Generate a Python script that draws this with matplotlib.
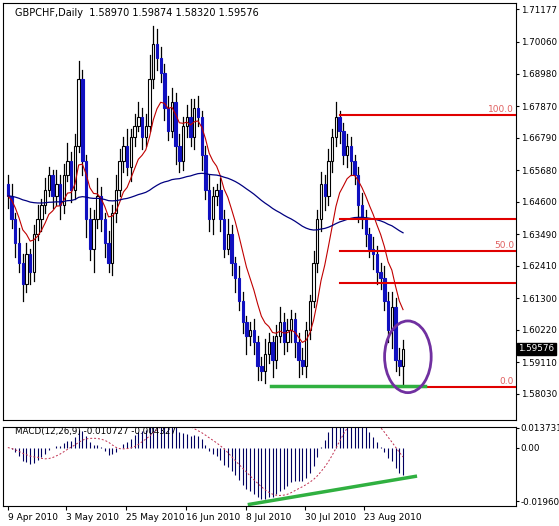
import numpy as np
import pandas as pd
import matplotlib
matplotlib.use("Agg")
import matplotlib.pyplot as plt
from matplotlib.patches import Rectangle, Ellipse

closes = [1.648,1.640,1.632,1.625,1.618,1.628,1.622,1.635,1.640,1.645,1.650,1.655,1.648,1.652,1.645,
          1.655,1.660,1.650,1.665,1.688,1.660,1.640,1.630,1.640,1.648,
          1.640,1.632,1.625,1.642,1.650,1.660,1.665,1.658,1.668,1.672,
          1.675,1.668,1.672,1.688,1.700,1.695,1.690,1.678,1.670,1.680,
          1.665,1.660,1.672,1.675,1.668,1.678,1.675,1.662,1.650,1.640,
          1.648,1.650,1.640,1.630,1.635,1.625,1.620,1.612,1.605,1.600,
          1.602,1.598,1.590,1.588,1.594,1.598,1.592,1.600,1.605,1.598,
          1.602,1.606,1.598,1.592,1.590,1.602,1.612,1.625,1.640,1.652,
          1.648,1.660,1.668,1.675,1.670,1.662,1.665,1.660,1.655,1.645,
          1.640,1.635,1.630,1.628,1.622,1.620,1.612,1.602,1.610,1.592,1.5897,1.59576]
first_open = 1.652
wick_up = [3,4,2,5,3,4,2,3,5,2,4,3,2,5,3,4,6,3,4,6,3,2,4,3,6,
           3,2,4,3,5,4,3,6,3,4,5,3,4,8,6,5,4,3,4,5,3,4,3,4,6,
           3,4,2,3,5,3,2,4,3,5,3,2,4,3,2,3,4,2,3,5,3,2,4,5,3,
           4,3,2,3,4,3,2,4,3,4,3,4,3,5,2,3,4,3,2,3,4,3,2,4,3,
           3,4,3,5,3,4,2.98]
wick_dn = [4,3,5,3,6,3,4,3,2,4,3,2,4,3,5,3,2,4,3,2,5,6,4,8,3,
           4,5,3,4,3,2,4,3,5,3,2,4,3,2,3,4,3,4,3,2,6,4,3,4,3,
           4,3,5,3,4,5,3,4,3,2,4,5,3,4,6,3,4,5,3,4,3,6,3,2,4,
           3,4,5,6,3,4,3,2,3,4,5,3,4,3,4,3,4,5,3,6,3,4,3,5,4,
           4,3,4,6,4,3,6.5]
dates = ["9 Apr 2010","3 May 2010","25 May 2010","16 Jun 2010","8 Jul 2010","30 Jul 2010","23 Aug 2010"]
date_idx = [0,15.5,31.8,47.8,64,79.8,95.5]
price_ticks = [1.71177,1.70060,1.68980,1.67870,1.66790,1.65680,1.64600,1.63490,1.62410,1.61300,1.60220,1.59110,1.58030]
fib_hi, fib_lo = 1.6756, 1.5827
fib_levels = [0, 38.2, 50, 61.8, 100]
fib_labels = {0:"0.0", 50:"50.0", 100:"100.0"}

c = np.array(closes)
o = np.concatenate([[first_open], c[:-1]])
h = np.maximum(o, c) + np.array(wick_up) * 0.001
l = np.minimum(o, c) - np.array(wick_dn) * 0.001
n = len(c)
x = np.arange(n)
s = pd.Series(c)
ma_fast = s.ewm(span=10, adjust=False).mean()
ma_slow = s.ewm(span=110, adjust=False).mean()
macd = s.ewm(span=12, adjust=False).mean() - s.ewm(span=26, adjust=False).mean()
sig = macd.rolling(9, min_periods=1).mean()

W, H = 559, 526
fig = plt.figure(figsize=(W/100, H/100), dpi=100)
fig.patch.set_facecolor("white")
ax = fig.add_axes([3/W, 1-420/H, 513/W, 417/H])
ax2 = fig.add_axes([3/W, 1-506/H, 513/W, 79/H])
xmax = -0.5 + 513/3.75
for a in (ax, ax2):
    a.set_xlim(-1.3, xmax)
    a.yaxis.tick_right()
    a.tick_params(axis="y", labelsize=6.3, length=2, pad=1.5)
    for sp in a.spines.values():
        sp.set_linewidth(0.8)

ax.set_ylim(1.5714, 1.7139)
ax.set_yticks(price_ticks)
ax.set_yticklabels([f"{v:.5f}" for v in price_ticks])
ax.set_xticks([])

bear = "#1010c0"
for i in range(n):
    ax.plot([x[i], x[i]], [l[i], h[i]], color="black", lw=0.9, zorder=2)
    lo, hi = min(o[i], c[i]), max(o[i], c[i])
    up = c[i] >= o[i]
    ax.add_patch(Rectangle((x[i]-0.32, lo), 0.64, max(hi-lo, 0.0003),
                           facecolor="white" if up else bear,
                           edgecolor="black" if up else bear, lw=0.8, zorder=3))
ax.plot(x, ma_fast, color="#c00000", lw=0.8, zorder=4)
ax.plot(x, ma_slow, color="#000080", lw=0.9, zorder=4)

for lv in fib_levels:
    y = fib_lo + (fib_hi - fib_lo) * lv / 100
    ax.plot([89, xmax], [y, y], color="#e00000", lw=1.5, zorder=5)
    if lv in fib_labels:
        ax.text(xmax-0.5, y+0.0004, fib_labels[lv], color="#e06060", fontsize=6.5, ha="right", va="bottom")
ax.plot([70.5, 112], [1.5830, 1.5830], color="#30b040", lw=2.5, zorder=6)
ax.add_patch(Ellipse((107.3, 1.5930), 12.5, 0.0245, fill=False, edgecolor="#7030a0", lw=2, zorder=7))
ax.text(2, 1.7105, "GBPCHF,Daily  1.58970 1.59874 1.58320 1.59576", fontsize=7, va="center")
ax.text(xmax+0.6, 1.59576, "1.59576", fontsize=6.3, color="white", va="center", ha="left",
        bbox=dict(boxstyle="square,pad=0.15", fc="black", ec="black"), clip_on=False)

ax2.vlines(x, 0, macd, color="#000060", lw=0.8)
ax2.plot(x, sig, color="#c03050", lw=0.7, ls=(0, (2, 2)))
ax2.plot([64.8, 109.3], [-0.0207, -0.0105], color="#30b040", lw=2.5)
ax2.set_ylim(-0.0213, 0.0075)
ax2.set_yticks([0.0073, 0.0, -0.0196])
ax2.set_yticklabels(["0.013731", "0.00", "-0.01960"])
ax2.set_xticks(date_idx)
ax2.set_xticklabels(dates, fontsize=6.5, ha="left")
ax2.tick_params(axis="x", length=3, pad=2)
ax2.text(2, 0.0057, "MACD(12,26,9) -0.010727 -0.004327", fontsize=6.3, va="center")

fig.savefig("out.png", dpi=100)
